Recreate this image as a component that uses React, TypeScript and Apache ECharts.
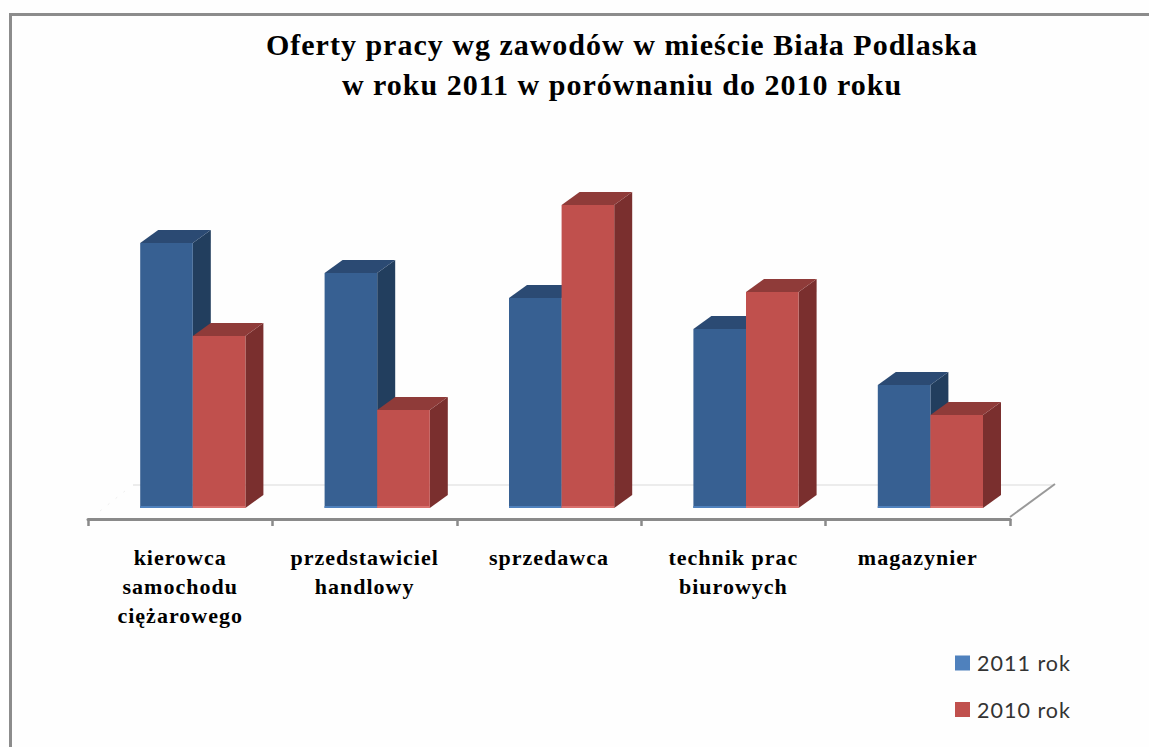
import React, { useEffect, useRef } from "react";
import * as echarts from "echarts";

const categories = [
  "kierowca\nsamochodu\nciężarowego",
  "przedstawiciel\nhandlowy",
  "sprzedawca",
  "technik prac\nbiurowych",
  "magazynier",
];
const values2011 = [265, 235, 210, 179, 123];
const values2010 = [172, 98, 303, 216, 93];
const titleText = "Oferty pracy wg zawodów w mieście Biała Podlaska\nw roku 2011 w porównaniu do 2010 roku";

const W = 1149, H = 747;
const BAR_W = 52.6, DX = 18, DY = 13, SHIFT = 12.6;

const makeRender = (side: number, front: string, top: string, right: string, edge: string) =>
  (_p: any, api: any) => {
    const idx = api.value(0);
    const [cx, yTop] = api.coord([idx, api.value(1)]);
    const [, yBase] = api.coord([idx, 0]);
    const x0 = cx + SHIFT + (side === 0 ? -BAR_W : 0);
    const x1 = x0 + BAR_W;
    return {
      type: "group",
      children: [
        { type: "polygon", shape: { points: [[x1, yTop], [x1 + DX, yTop - DY], [x1 + DX, yBase - DY], [x1, yBase]] }, style: { fill: right } },
        { type: "polygon", shape: { points: [[x0, yTop], [x0 + DX, yTop - DY], [x1 + DX, yTop - DY], [x1, yTop]] }, style: { fill: top } },
        { type: "rect", shape: { x: x0, y: yTop, width: BAR_W, height: yBase - yTop }, style: { fill: front } },
        { type: "rect", shape: { x: x0, y: yBase - 2, width: BAR_W, height: 2 }, style: { fill: edge } },
      ],
    };
  };

export default function App() {
  const ref = useRef<HTMLDivElement>(null);
  useEffect(() => {
    document.body.style.margin = "0";
    const chart = echarts.init(ref.current!, null, { renderer: "svg" });
    chart.setOption({
      animation: false,
      backgroundColor: "#fefefe",
      title: {
        text: titleText,
        left: 617,
        top: 19,
        textAlign: "center",
        textStyle: { fontFamily: "Liberation Serif", fontWeight: "bold", fontSize: 30, lineHeight: 40, color: "#000" },
      },
      grid: { left: 88, right: W - 1010, top: 158, bottom: H - 508 },
      legend: {
        orient: "vertical",
        left: 950,
        top: 647,
        itemWidth: 15,
        itemHeight: 15,
        itemGap: 24.5,
        icon: "rect",
        data: ["2011 rok", "2010 rok"],
        textStyle: { fontFamily: "Lato", fontSize: 21.5, color: "#333", padding: [0, 0, 0, 2] },
      },
      xAxis: {
        type: "category",
        data: categories,
        offset: 11,
        axisLine: { onZero: false, lineStyle: { color: "#8a8a8a", width: 3 } },
        axisTick: { show: true, length: 7, lineStyle: { color: "#8a8a8a", width: 2.5 } },
        axisLabel: {
          interval: 0,
          margin: 24,
          fontFamily: "Liberation Serif",
          fontWeight: "bold",
          fontSize: 22,
          lineHeight: 29,
          color: "#000",
        },
      },
      yAxis: { type: "value", min: 0, max: 350, show: false },
      series: [
        {
          name: "2011 rok",
          type: "custom",
          itemStyle: { color: "#4F81BD" },
          encode: { x: 0, y: 1 },
          data: values2011.map((v, i) => [i, v]),
          renderItem: makeRender(0, "#376092", "#2B4A73", "#223E5E", "#4F81BD"),
        },
        {
          name: "2010 rok",
          type: "custom",
          itemStyle: { color: "#C0504D" },
          encode: { x: 0, y: 1 },
          data: values2010.map((v, i) => [i, v]),
          renderItem: makeRender(1, "#C0504D", "#8F3B39", "#7A2F2E", "#D9706D"),
        },
      ],
      graphic: [
        { type: "rect", z: -1, shape: { x: 9, y: 13, width: W - 9, height: 3 }, style: { fill: "#8c8c8c" } },
        { type: "rect", z: -1, shape: { x: 9, y: 13, width: 3, height: H - 13 }, style: { fill: "#8c8c8c" } },
        { type: "line", z: -1, shape: { x1: 133, y1: 485, x2: 1053, y2: 485 }, style: { stroke: "#ececec", lineWidth: 2 } },
        { type: "line", z: -1, shape: { x1: 1010, y1: 517, x2: 1055, y2: 484 }, style: { stroke: "#999", lineWidth: 2 } },
        { type: "line", z: -1, shape: { x1: 100, y1: 511, x2: 130, y2: 487 }, style: { stroke: "#eee", lineWidth: 1, lineDash: [2, 8] } },
      ],
    });
    return () => chart.dispose();
  }, []);
  return <div ref={ref} style={{ width: W, height: H, letterSpacing: "1px" }} />;
}
